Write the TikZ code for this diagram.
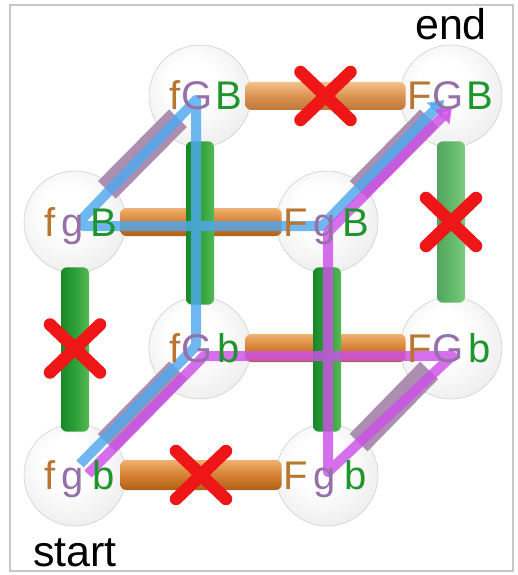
\documentclass[tikz,border=0pt]{standalone}
\usepackage{fontspec}
\setmainfont{Liberation Sans}
\usetikzlibrary{calc,arrows.meta}
\definecolor{cf}{RGB}{185,118,48}
\definecolor{cg}{RGB}{150,112,168}
\definecolor{cb}{RGB}{30,150,45}
\definecolor{oT}{RGB}{240,178,112}
\definecolor{oM}{RGB}{214,128,50}
\definecolor{oB}{RGB}{176,96,24}
\definecolor{gL}{RGB}{25,135,40}
\definecolor{gM}{RGB}{45,160,55}
\definecolor{gR}{RGB}{85,185,85}
\definecolor{mauve}{RGB}{172,142,176}
\definecolor{bl}{RGB}{80,168,238}
\definecolor{mg}{RGB}{205,80,232}
\definecolor{xred}{RGB}{238,22,22}
\pgfdeclareradialshading{spherefill}{\pgfpoint{-5bp}{7bp}}{color(0bp)=(white);color(12bp)=(white);color(28bp)=(black!6);color(40bp)=(black!14);color(48bp)=(black!23);color(56bp)=(black!31);color(60bp)=(black!34)}
\newcommand\trio[3]{\makebox[24pt][r]{\color{cf}#1}\hspace{4pt}\makebox[26pt]{\color{cg}#2}\hspace{3pt}\makebox[30pt]{\color{cb}#3}}
\tikzset{
  sph/.style={circle, minimum size=102pt, inner sep=0pt, shading=spherefill, draw=black!18, line width=0.6pt},
  obar/.style={top color=oT, bottom color=oB, middle color=oM, rounded corners=6pt},
  obarlight/.style={top color=oT!80!white, bottom color=oB!85!white, middle color=oM!85!white, rounded corners=6pt},
  gbar/.style={left color=gL, right color=gR, middle color=gM, rounded corners=6pt},
  gbarlight/.style={left color=gL!75!white, right color=gR!75!white, middle color=gM!75!white, rounded corners=6pt},
  mbar/.style={draw=mauve, line width=25pt, shorten <=-6pt, shorten >=-20pt},
  xmark/.style={draw=xred, line width=12.5pt, line cap=round},
  pathline/.style={opacity=.82, line width=10pt, line join=round, -{Triangle[length=14pt,width=20pt]}},
  lab/.style={anchor=base, inner sep=0pt, font=\fontsize{40pt}{44pt}\selectfont},
  word/.style={anchor=base, inner sep=0pt, font=\fontsize{43pt}{46pt}\selectfont}
}
\begin{document}
\begin{tikzpicture}[x=1pt,y=-1pt]
\useasboundingbox (0,0) rectangle (518,575);
\fill[white] (0,0) rectangle (518,575);
\draw[black!22, line width=1.2pt] (10,5) rectangle (513,571);

% spheres
\node[sph] (fgb) at (75,475) {};
\node[sph] (Fgb) at (327,475) {};
\node[sph] (fgB) at (75,222) {};
\node[sph] (FgB) at (327,222) {};
\node[sph] (fGb) at (200,348) {};
\node[sph] (FGb) at (451,348) {};
\node[sph] (fGB) at (200,96) {};
\node[sph] (FGB) at (451,96) {};

% G edges (diagonal)
\draw[mbar] (fgb) -- (fGb);
\draw[mbar] (Fgb) -- (FGb);
\draw[mbar] (fgB) -- (fGB);
\draw[mbar] (FgB) -- (FGB);

% F edges (horizontal)
\shade[obar] ($(fgb.east)+(-6,-15)$) rectangle ($(Fgb.west)+(6,15)$);
\shade[obar] ($(fgB.east)+(-6,-14)$) rectangle ($(FgB.west)+(6,14)$);
\shade[obar] ($(fGb.east)+(-6,-14)$) rectangle ($(FGb.west)+(6,14)$);
\shade[obarlight] ($(fGB.east)+(-6,-14)$) rectangle ($(FGB.west)+(6,14)$);

% B edges (vertical)
\shade[gbar] ($(fgB.south)+(-14,-6)$) rectangle ($(fgb.north)+(14,8)$);
\shade[gbar] ($(FgB.south)+(-14,-6)$) rectangle ($(Fgb.north)+(14,8)$);
\shade[gbar] ($(fGB.south)+(-14,-6)$) rectangle ($(fGb.north)+(14,8)$);
\shade[gbarlight] ($(FGB.south)+(-14,-6)$) rectangle ($(FGb.north)+(14,6)$);

% forbidden moves
\coordinate (x1) at ($(fgb)!0.5!(Fgb)$);
\coordinate (x2) at ($(fGB)!0.5!(FGB)$);
\coordinate (x3) at ($(fgb)!0.5!(fgB)$);
\coordinate (x4) at ($(FGb)!0.5!(FGB)$);
\foreach \c in {x1,x2,x3,x4}{
  \draw[xmark] ($(\c)+(-25,-24)$) -- ($(\c)+(25,24)$);
  \draw[xmark] ($(\c)+(-25,24)$) -- ($(\c)+(25,-24)$);
}

% solution paths
\draw[pathline, draw=bl] ($(fgb)+(5,-11)$) -- ($(fGb)+(-4,-2)$) -- ($(fGB)+(-4,4)$) -- ($(fgB)+(8,-4)$) -- ($(fgB)+(8,4)$) -- ($(FgB)+(-5,4)$) -- ($(FGB)+(-7,4)$);
\draw[pathline, draw=mg] ($(fgb)+(13,-1)$) -- ($(fGb)+(4,8)$) -- ($(FGb)+(1,8)$) -- ($(Fgb)+(1,-3)$) -- ($(FgB)+(1,10)$) -- ($(FGB)+(1,11)$);

% labels
\node[lab] (lfgb) at ($(fgb)+(0,14)$) {\trio fgb};
\node[lab] (lFgb) at ($(Fgb)+(0,14)$) {\trio Fgb};
\node[lab] (lfgB) at ($(fgB)+(0,14)$) {\trio fgB};
\node[lab] (lFgB) at ($(FgB)+(0,14)$) {\trio FgB};
\node[lab] (lfGb) at ($(fGb)+(0,14)$) {\trio fGb};
\node[lab] (lFGb) at ($(FGb)+(0,14)$) {\trio FGb};
\node[lab] (lfGB) at ($(fGB)+(0,14)$) {\trio fGB};
\node[lab] (lFGB) at ($(FGB)+(0,14)$) {\trio FGB};

\node[word] (endw) at (451,40) {end};
\node[word] (startw) at (75,566) {start};
\end{tikzpicture}
\end{document}
